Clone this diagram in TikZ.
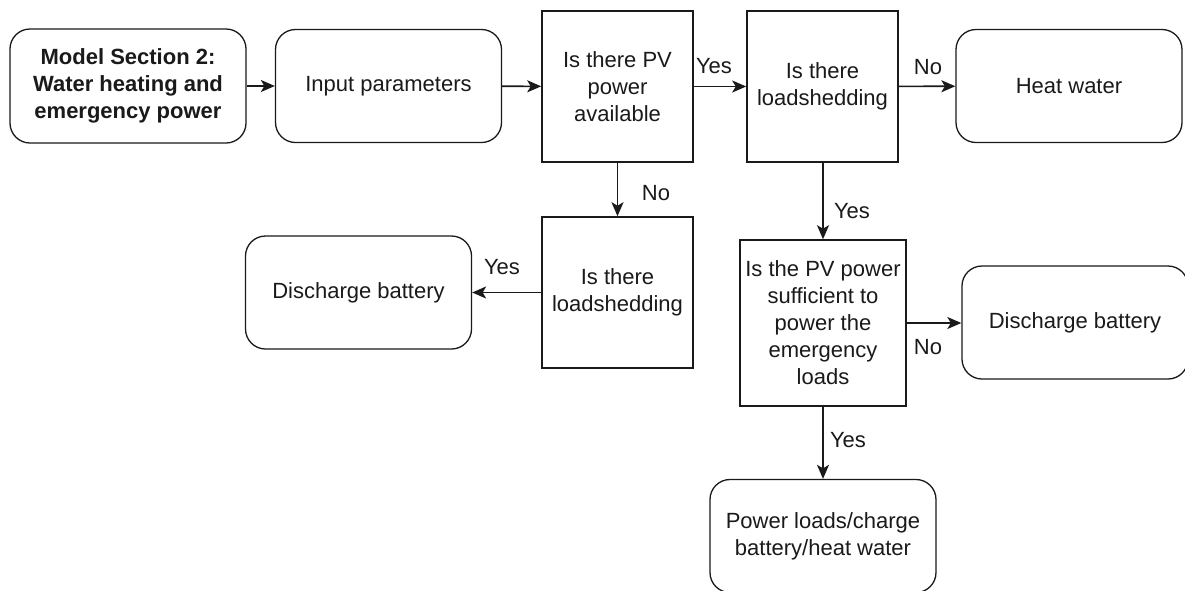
\documentclass[tikz,border=0pt]{standalone}
\usepackage{fontspec}
\setmainfont{Liberation Sans}
\usetikzlibrary{arrows.meta,positioning}
\definecolor{ink}{HTML}{1A1A1A}
\tikzset{
  flowfont/.style={font=\fontsize{22}{27}\selectfont,text=ink},
  stepbox/.style={flowfont,draw=ink,line width=1.6pt,fill=white,inner sep=0pt,
    align=center,minimum width=#1,minimum height=#1},
  endbox/.style={flowfont,draw=ink,line width=1.3pt,fill=white,rounded corners=20pt,
    inner sep=0pt,align=center,minimum width=226pt,minimum height=113pt},
  flowarrow/.style={draw=ink,line width=1.6pt,-{Stealth[length=14pt,width=12pt,inset=3.5pt]}},
  answer/.style={flowfont,inner sep=0pt}
}
\begin{document}
\begin{tikzpicture}[x=1pt,y=-1pt]
  \clip (0,0) rectangle (1185,590);
  \fill[white] (0,0) rectangle (1185,590);

  % top row
  \node[endbox,minimum width=236pt,minimum height=114pt,font=\fontsize{22}{27}\selectfont\bfseries]
    (model) at (128,86) {Model Section 2:\\Water heating and\\emergency power};
  \node[endbox] (input) at (388.5,86) {Input parameters};
  \node[stepbox=151pt] (pvavail) at (617.5,86.5) {Is there PV\\power\\available};
  \node[stepbox=151pt] (shedtop) at (822.5,86.5) {Is there\\loadshedding};
  \node[endbox] (heat) at (1069,86) {Heat water};

  % lower branches
  \node[stepbox=151pt] (shedlow) at (617.5,292.5) {Is there\\loadshedding};
  \node[endbox] (dischleft) at (358.5,292.5) {Discharge battery};
  \node[stepbox=166pt] (sufficient) at (823,323)
    {Is the PV power\\sufficient to\\power the\\emergency\\loads};
  \node[endbox] (dischright) at (1075,322.5) {Discharge battery};
  \node[endbox] (powerloads) at (823,536) {Power loads/charge\\battery/heat water};

  \draw[flowarrow] (model) -- (input);
  \draw[flowarrow] (input) -- (pvavail);
  \draw[flowarrow] (pvavail) -- (shedtop);
  \draw[flowarrow] (shedtop) -- (heat);
  \draw[flowarrow] (pvavail) -- (shedlow);
  \draw[flowarrow] (shedlow) -- (dischleft);
  \draw[flowarrow] (shedtop.south -| sufficient) -- (sufficient);
  \draw[flowarrow] (sufficient) -- (dischright.west |- sufficient);
  \draw[flowarrow] (sufficient) -- (powerloads);

  \node[answer] (yespv) at (714,66) {Yes};
  \node[answer] (noheat) at (928,67) {No};
  \node[answer] (nopv) at (656,193) {No};
  \node[answer] (yesleft) at (502,267) {Yes};
  \node[answer] (yesshed) at (852,211) {Yes};
  \node[answer] (nosuff) at (928,347) {No};
  \node[answer] (yessuff) at (848,440) {Yes};
\end{tikzpicture}
\end{document}
